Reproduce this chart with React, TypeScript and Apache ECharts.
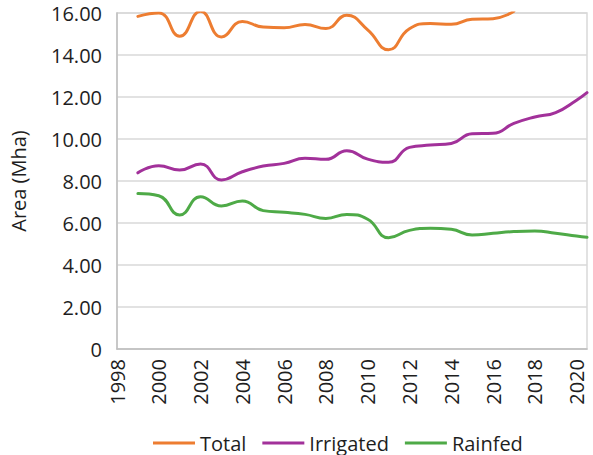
import React, { useEffect, useRef } from "react";
import * as echarts from "echarts";

const totalYears = [1999, 2000, 2001, 2002, 2003, 2004, 2005, 2006, 2007, 2008, 2009, 2010, 2011, 2012, 2013, 2014, 2015, 2016, 2017];
const totalValues = [15.84, 16.0, 14.89, 16.08, 14.86, 15.6, 15.33, 15.3, 15.45, 15.26, 15.89, 15.2, 14.25, 15.25, 15.5, 15.46, 15.7, 15.73, 16.08];

const subYears = [1999, 2000, 2001, 2002, 2003, 2004, 2005, 2006, 2007, 2008, 2009, 2010, 2011, 2012, 2013, 2014, 2015, 2016, 2017, 2018, 2019, 2020, 2020.5];
const irrigatedValues = [8.39, 8.73, 8.52, 8.81, 8.05, 8.44, 8.71, 8.84, 9.08, 9.03, 9.44, 9.04, 8.89, 9.6, 9.71, 9.79, 10.25, 10.27, 10.74, 11.05, 11.26, 11.85, 12.21];
const rainfedValues = [7.41, 7.3, 6.38, 7.25, 6.81, 7.05, 6.59, 6.51, 6.41, 6.22, 6.41, 6.18, 5.3, 5.65, 5.75, 5.7, 5.43, 5.51, 5.59, 5.62, 5.51, 5.38, 5.32];

const seriesNames = ["Total", "Irrigated", "Rainfed"];
const seriesColors = ["#ED7D31", "#A2319A", "#4EAA47"];

const FONT = "'Open Sans', sans-serif";
const TEXT = "#1e1e1e";

export default function App() {
  const ref = useRef<HTMLDivElement>(null);
  useEffect(() => {
    document.body.style.margin = "0";
    if (!ref.current) return;
    const chart = echarts.init(ref.current, undefined, { renderer: "svg" });
    const pairs = (xs: number[], ys: number[]) => ys.map((v, i) => [xs[i], v]);
    const datasets = [
      pairs(totalYears, totalValues),
      pairs(subYears, irrigatedValues),
      pairs(subYears, rainfedValues),
    ];
    chart.setOption({
      animation: false,
      textStyle: { fontFamily: FONT },
      grid: {
        left: 113,
        right: 6,
        top: 13,
        bottom: 106,
        show: true,
        borderColor: "#D9D9D9",
        borderWidth: 1.5,
      },
      legend: {
        left: 148,
        top: 428,
        icon: "rect",
        itemWidth: 42,
        itemHeight: 3,
        itemGap: 16,
        data: seriesNames,
        textStyle: { fontFamily: FONT, fontSize: 20, color: TEXT },
      },
      xAxis: {
        type: "value",
        min: 1998,
        max: 2020.5,
        interval: 2,
        axisLine: { show: true, lineStyle: { color: "#BFBFBF", width: 1.5 } },
        axisTick: { show: false },
        splitLine: { show: false },
        axisLabel: {
          rotate: 90,
          margin: 10,
          fontFamily: FONT,
          fontSize: 20,
          color: TEXT,
          formatter: (v: number) => (v % 2 === 0 ? String(v) : ""),
        },
      },
      yAxis: {
        type: "value",
        min: 0,
        max: 16,
        interval: 2,
        name: "Area (Mha)",
        nameLocation: "middle",
        nameGap: 89,
        nameTextStyle: { fontFamily: FONT, fontSize: 20, color: TEXT },
        axisLine: { show: true, lineStyle: { color: "#BFBFBF", width: 1.5 } },
        axisTick: { show: false },
        splitLine: { show: true, lineStyle: { color: "#D9D9D9", width: 1.5 } },
        axisLabel: {
          margin: 15,
          fontFamily: FONT,
          fontSize: 20,
          color: TEXT,
          formatter: (v: number) => (v === 0 ? "0" : v.toFixed(2)),
        },
      },
      series: seriesNames.map((name, i) => ({
        name,
        type: "line",
        data: datasets[i],
        smooth: 0.5,
        symbol: "none",
        showSymbol: false,
        color: seriesColors[i],
        lineStyle: { color: seriesColors[i], width: 3, cap: "round" },
      })),
    });
    return () => chart.dispose();
  }, []);
  return <div ref={ref} style={{ width: 593, height: 455 }} />;
}
